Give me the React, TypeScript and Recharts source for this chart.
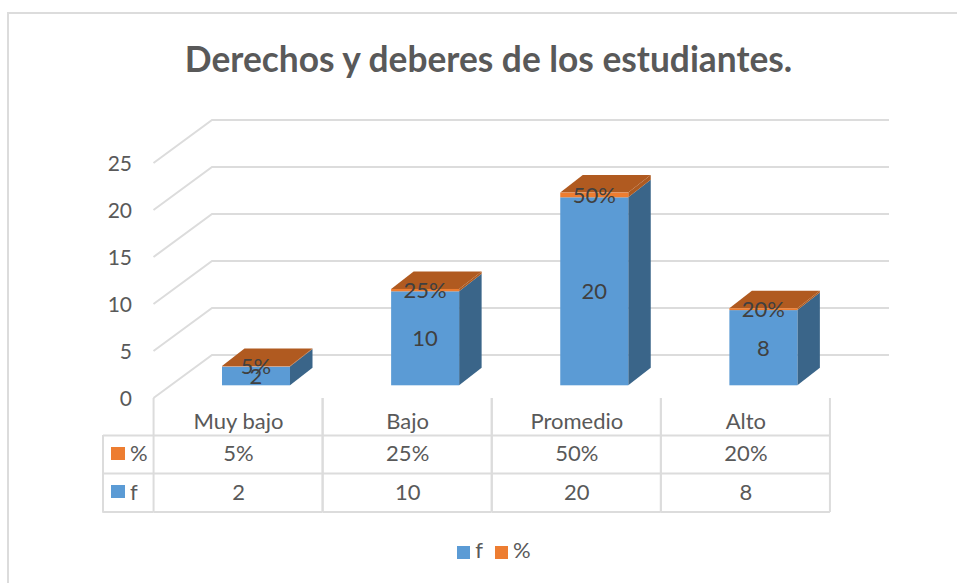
import { Bar, BarChart, CartesianGrid, LabelList, Legend, XAxis, YAxis } from "recharts";

const categories = ["Muy bajo", "Bajo", "Promedio", "Alto"];
const counts = [2, 10, 20, 8];
const shares = [0.05, 0.25, 0.5, 0.2];
const yTicks = [0, 5, 10, 15, 20, 25];

const rows = categories.map((name, i) => ({ name, f: counts[i], pct: shares[i] }));

const FONT = "Lato";
const TEXT = "#595959";
const LABEL = "#404040";
const LINE = "#dcdcdc";
const BLUE = "#5b9bd5";
const ORANGE = "#ed7d31";
const LINE_W = 2;

// fake 3d: the back wall and the bars are pushed away from the front plane
const WALL_DX = 58.5;
const WALL_DY = -43;
const BAR_DX = 17.5;
const BAR_DY = -12.7;
const SIDE_DX = 22.5;
const SIDE_DY = -17.5;
const GRID_RIGHT = 889;

const percent = (v: number) => `${Math.round(v * 100)}%`;

function Box3D(props: any) {
  const { x, y, width, height, dark, top, front } = props;
  const l = x + BAR_DX;
  const r = l + width;
  const t = y + BAR_DY;
  const b = t + height;
  return (
    <g>
      <path d={`M${r} ${t}L${r + SIDE_DX} ${t + SIDE_DY}L${r + SIDE_DX} ${b + SIDE_DY}L${r} ${b}Z`} fill={dark} />
      {top ? <path d={`M${l} ${t}L${l + SIDE_DX} ${t + SIDE_DY}L${r + SIDE_DX} ${t + SIDE_DY}L${r} ${t}Z`} fill={top} /> : null}
      <rect x={l} y={t} width={width} height={height} fill={front} />
    </g>
  );
}

function WallLine(props: any) {
  const { x1, y1 } = props;
  return (
    <polyline
      points={`${x1},${y1} ${x1 + WALL_DX},${y1 + WALL_DY} ${GRID_RIGHT},${y1 + WALL_DY}`}
      fill="none"
      stroke={LINE}
      strokeWidth={LINE_W}
    />
  );
}

function ValueTick({ y, payload }: any) {
  return (
    <text x={132} y={y - 1} textAnchor="end" dominantBaseline="central" fontFamily={FONT} fontSize={21} fill={TEXT}>
      {payload.value}
    </text>
  );
}

// the data table under the chart is drawn from the category axis ticks
function TableTick({ x, y, payload, index }: any) {
  const half = 84.5;
  const left = x - half;
  const right = x + half;
  const cell = { textAnchor: "middle", dominantBaseline: "central", fontFamily: FONT, fontSize: 22, fill: TEXT } as const;
  return (
    <g>
      <line x1={left} y1={y} x2={left} y2={y + 114} stroke={LINE} strokeWidth={LINE_W} />
      <line x1={right} y1={y} x2={right} y2={y + 114} stroke={LINE} strokeWidth={LINE_W} />
      <line x1={left} y1={y + 37.5} x2={right} y2={y + 37.5} stroke={LINE} strokeWidth={LINE_W} />
      <line x1={left} y1={y + 75.5} x2={right} y2={y + 75.5} stroke={LINE} strokeWidth={LINE_W} />
      <line x1={left} y1={y + 114} x2={right} y2={y + 114} stroke={LINE} strokeWidth={LINE_W} />
      <text x={x + 0.5} y={y + 22} {...cell}>{payload.value}</text>
      <text x={x + 0.5} y={y + 54} {...cell}>{percent(shares[index])}</text>
      <text x={x + 0.5} y={y + 93} {...cell}>{counts[index]}</text>
      {index === 0 ? (
        <g>
          <line x1={103} y1={y + 37.5} x2={left} y2={y + 37.5} stroke={LINE} strokeWidth={LINE_W} />
          <line x1={103} y1={y + 75.5} x2={left} y2={y + 75.5} stroke={LINE} strokeWidth={LINE_W} />
          <line x1={103} y1={y + 114} x2={left} y2={y + 114} stroke={LINE} strokeWidth={LINE_W} />
          <line x1={103} y1={y + 37} x2={103} y2={y + 114.7} stroke={LINE} strokeWidth={LINE_W} />
          <rect x={111} y={y + 49} width={14} height={13} fill={ORANGE} />
          <rect x={111} y={y + 87} width={14} height={13} fill={BLUE} />
          <text x={130} y={y + 54} {...cell} textAnchor="start">%</text>
          <text x={130} y={y + 93} {...cell} textAnchor="start">f</text>
        </g>
      ) : null}
    </g>
  );
}

export default function App() {
  return (
    <div style={{ position: "absolute", left: 0, top: 0, width: 957, height: 583, overflow: "hidden" }}>
      <div style={{ position: "absolute", left: 7, top: 12, width: 960, height: 580, border: `2px solid ${LINE}`, boxSizing: "border-box" }} />
      <BarChart
        width={957}
        height={583}
        data={rows}
        margin={{ top: 163, right: 127, bottom: 0, left: 0 }}
        barSize={68}
        style={{ position: "absolute", left: 0, top: 0 }}
      >
        <text x={488.5} y={58} textAnchor="middle" dominantBaseline="central" fontFamily={FONT} fontWeight={700} fontSize={35.3} fill={TEXT}>
          Derechos y deberes de los estudiantes.
        </text>
        <CartesianGrid vertical={false} horizontal={<WallLine />} />
        <XAxis dataKey="name" height={185} interval={0} axisLine={false} tickLine={false} tickSize={0} tickMargin={0} tick={<TableTick />} />
        <YAxis width={153.5} domain={[0, 25]} ticks={yTicks} axisLine={false} tickLine={false} tick={<ValueTick />} />
        <Legend
          layout="horizontal"
          verticalAlign="middle"
          align="center"
          iconType="square"
          iconSize={13}
          itemSorter={null}
          wrapperStyle={{ left: 450, top: 536, width: 100, height: 26, fontFamily: FONT, fontSize: 22 }}
          formatter={(value: string) => <span style={{ color: TEXT, marginLeft: 1, marginRight: 2 }}>{value}</span>}
        />
        <Bar
          dataKey="f"
          name="f"
          stackId="a"
          fill={BLUE}
          isAnimationActive={false}
          shape={(p: any) => <Box3D {...p} front={BLUE} dark="#3a6589" />}
        >
          <LabelList dataKey="f" position="center" dx={BAR_DX} dy={BAR_DY} fill={LABEL} fontFamily={FONT} fontSize={22} />
        </Bar>
        <Bar
          dataKey="pct"
          name="%"
          stackId="a"
          fill={ORANGE}
          isAnimationActive={false}
          shape={(p: any) => <Box3D {...p} front={ORANGE} dark="#ad5a20" top="#b05a20" />}
        >
          <LabelList dataKey="pct" position="center" dx={BAR_DX} dy={BAR_DY} formatter={(v: any) => percent(v)} fill={LABEL} fontFamily={FONT} fontSize={22} />
        </Bar>
      </BarChart>
    </div>
  );
}
